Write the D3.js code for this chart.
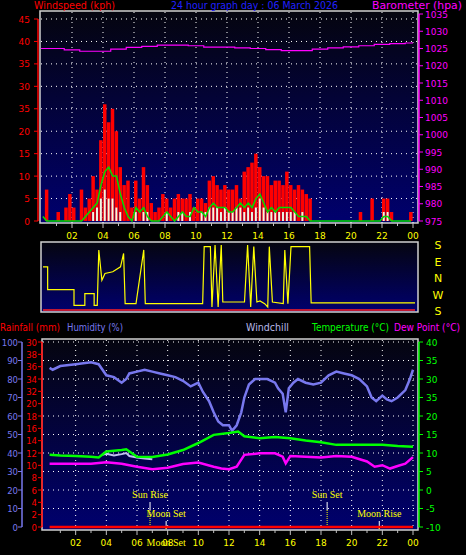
<!DOCTYPE html>
<html><head><meta charset="utf-8">
<script src="https://cdn.jsdelivr.net/npm/d3@7"></script>
<style>body{margin:0;background:#000}svg{display:block}</style>
</head><body><div id="chart"></div>
<script>
// wind, 15 minute slots from 00:00
const gust = [0,7,0,0, 2,0,3,6, 3,0,7,3, 5,10,7,18, 26,22,25,20, 12,8,9,3, 9,5,12,8, 4,2,3,6,
  5,3,5,6, 5,5,6,3, 5,5,4,9, 10,8,7,8, 7,7,8,5, 11,12,13,15, 12,10,10,8, 9,9,8,11,
  8,7,8,7, 6,5,0,0, 0,0,0,0, 0,0,0,0, 0,0,2,0, 0,5,0,0, 5,5,2,0, 0,0,0,2]
const avgWind = [1,0,0,0, 0,0,0,0, 0,0,0,1, 2,3,4,8, 11,12,10,10, 6,3,1,0, 3,2,3,1, 0,0,0,1,
  2,1,0,1, 2,1,1,3, 2,2,1,3, 4,3,3,3, 2,2,3,4, 3,4,3,5, 6,4,2,3, 2,3,3,3,
  3,2,1,1, 1,0,0,0, 0,0,0,0, 0,0,0,0, 0,0,0,0, 0,0,0,0, 1,1,0,0, 0,0,0,0]
const lull = [0,0,0,0, 0,0,0,0, 0,0,0,0, 0,2,3,5, 7,5,5,3, 2,0,0,0, 2,0,2,2, 0,0,0,0,
  2,0,0,2, 2,0,2,0, 0,2,2,3, 3,3,2,3, 2,2,3,3, 2,3,2,3, 5,3,2,2, 2,2,2,2,
  2,2,0,2, 0,0,0,0, 0,0,0,0, 0,0,0,0, 0,0,0,0, 0,0,0,0, 2,2,0,0, 0,0,0,0]
const baroHours = [0,1,2,3,4,5,6,7,8,9,10,11,12,13,14,15,16,17,18,19,20,21,22,23,24]
const baro = [1025,1025,1024.6,1024.2,1024.2,1024.8,1025.3,1025.6,1026,1026,1025.8,1025.4,1025.4,
  1025.2,1025,1024.7,1024.4,1024.4,1024.8,1025.2,1025.5,1025.8,1026.2,1026.4,1026.6]
const dirHours = [0,0.3,0.3,2,2,2.7,2.7,3.3,3.3,3.5,3.6,3.8,4,4.5,5,5.2,5.3,6,6.5,6.6,10.3,10.4,10.8,10.9,
  11.1,11.3,11.5,11.6,13,13.2,13.4,13.6,13.8,14,14.3,14.5,14.6,14.8,15.5,15.6,15.8,16,16.5,17.2,17.3,24]
const dirDeg = [61,61,-63,-63,-149,-149,-85,-85,-149,-149,153,-12,25,34,61,134,-140,-140,153,-140,-140,171,171,-158,
  180,-158,180,-131,-131,180,-158,171,-131,-125,-140,-158,171,-131,-140,153,-140,171,171,171,-136,-136]
const humHours = [0.3,0.5,1,2,3,3.5,4,4.5,5,5.3,5.5,6,6.5,7,7.5,8,8.5,9,9.5,10,10.3,10.7,11,11.3,11.6,12,12.2,12.5,
  12.8,13,13.3,13.7,14,14.5,15,15.2,15.5,15.7,15.9,16.2,16.5,17,17.5,18,18.5,19,19.5,20,20.5,21,21.3,21.6,22,22.3,22.6,23,23.5,23.8,24]
const humidity = [86,85,87,88,89,88,82,81,78,80,83,84,85,84,83,82,81,79,76,78,73,68,62,57,55,55,52,55,
  62,70,77,80,80,80,78,75,72,62,75,78,80,78,77,78,82,84,83,82,80,76,70,68,71,69,68,70,74,80,85]
const tempHours = [0.3,1,2,3,3.5,4,5,5.3,6,7,8,9,10,11,12,12.6,13,14,15,16,17,18,19,20,22,23,24]
const temperature = [9.5,9.3,9.2,9.0,8.8,10.4,10.8,11,9,8.9,9.6,10.8,12.7,14.9,15.4,15.8,14.5,14,14.3,14,13.4,12.9,12.2,12.2,12.2,11.9,11.7]
const dewHours = [0.3,3,4,5,6,7,8,9,10,11,11.5,12,12.5,13,14,15,15.5,15.7,16,17,18,19,20,21,21.5,22,22.5,23,23.5,24]
const dewPoint = [7.1,7.1,7.5,7.1,6.3,5.6,6,7,7.4,6.3,5.8,5.6,6.3,9.5,9.9,9.9,9,7.2,9.2,9,8.8,9.2,9,7.7,6.3,6.7,5.8,6.5,7.1,8.9]
const chillHours = [3.7,4,4.5,5,5.3,5.5,6,6.5,7]
const windchill = [9.5,9.8,9.3,9.7,10,9.2,8.8,8.5,8.3]
const rainHours = [0.3,24]
const rainfall = [0,0]
const hourLabels = ['02','04','06','08','10','12','14','16','18','20','22','00']
const windLabels = ['45','40','35','30','35','20','15','10','5','0']
const baroLabels = ['1035','1030','1025','1020','1015','1010','1005','1000','995','990','985','980','975']
const compassLabels = ['S','E','N','W','S']
const rainLabels = ['30','38','36','34','32','20','18','16','14','12','10','8','6','4','2','0']
const humLabels = ['100','90','80','70','60','50','40','30','20','10','0']
const tempLabels = ['40','35','30','35','20','15','10','5','0','-5','-10']
const events = [{name:'Sun Rise',h:6.85,row:0},{name:'Moon Set',h:7.9,row:1},{name:'Sun Set',h:18.4,row:0},{name:'Moon Rise',h:21.8,row:1}]

const W = 466, H = 555
const svg = d3.select('#chart').append('svg').attr('width', W).attr('height', H)
  .style('font-family', 'DejaVu Sans').style('font-size', '9px')
const defs = svg.append('defs')
const grad = defs.append('linearGradient').attr('id', 'bg').attr('x1', 0).attr('x2', 0).attr('y1', 0).attr('y2', 1)
grad.append('stop').attr('offset', '0%').attr('stop-color', '#05050f')
grad.append('stop').attr('offset', '100%').attr('stop-color', '#00006e')

function panel (x0, x1, y0, y1) {
  svg.append('rect').attr('x', x0).attr('y', y0).attr('width', x1 - x0).attr('height', y1 - y0)
    .attr('fill', 'url(#bg)').attr('stroke', '#d0d0d0').attr('stroke-width', 1.5)
}
function hourAxis (x, y, yTop) {
  const g = svg.append('g')
  d3.range(1, 25).forEach(h => {
    g.append('line').attr('x1', x(h)).attr('x2', x(h)).attr('y1', y).attr('y2', y + (h % 2 ? 3 : 5)).attr('stroke', '#c0c0c0')
    if (h % 2 === 0) {
      g.append('line').attr('x1', x(h)).attr('x2', x(h)).attr('y1', yTop).attr('y2', y)
        .attr('stroke', '#fff').attr('stroke-dasharray', '1,4')
      g.append('text').attr('x', x(h)).attr('y', y + 16).attr('text-anchor', 'middle')
        .attr('fill', '#ffff00').text(hourLabels[h / 2 - 1])
    }
  })
}
function hGrid (y, vals, x0, x1) {
  vals.forEach(v => svg.append('line').attr('x1', x0).attr('x2', x1).attr('y1', y(v)).attr('y2', y(v))
    .attr('stroke', '#fff').attr('stroke-dasharray', '1,4'))
}
function labelAxis (xLine, y, vals, labels, color, side, dx, fs) {
  svg.append('line').attr('x1', xLine).attr('x2', xLine).attr('y1', y(vals[0])).attr('y2', y(vals[vals.length - 1]))
    .attr('stroke', color).attr('stroke-width', 1.5)
  vals.forEach((v, i) => {
    svg.append('line').attr('x1', xLine).attr('x2', xLine + side * 4).attr('y1', y(v)).attr('y2', y(v)).attr('stroke', color)
    svg.append('text').attr('x', xLine + side * dx).attr('y', y(v) + 3.5).style('font-size', (fs || 9) + 'px')
      .attr('text-anchor', side < 0 ? 'end' : 'start').attr('fill', color).text(labels[i])
  })
}
function header (t, x, y, w, color) {
  svg.append('text').attr('x', x).attr('y', y).attr('fill', color).style('font-size', '10.5px')
    .attr('textLength', w).attr('lengthAdjust', 'spacingAndGlyphs').text(t)
}

// ---- top: wind + barometer
const xT = d3.scaleLinear().domain([0, 24]).range([41, 413])
const yW = d3.scaleLinear().domain([0, 45]).range([221, 19])
const yB = d3.scaleLinear().domain([975, 1035]).range([221, 14])
panel(40, 418, 11, 223)
hGrid(yW, [5, 10, 15, 20, 25, 30, 35, 40, 45], 41, 417)
hourAxis(xT, 223, 12)
const slot = 0.25
const bw = xT(slot) - xT(0)
svg.append('g').selectAll('rect').data(gust).join('rect')
  .attr('x', (d, i) => xT(i * slot)).attr('width', bw * 0.9)
  .attr('y', d => yW(d)).attr('height', d => yW(0) - yW(d)).attr('fill', '#ff0000')
svg.append('g').selectAll('rect').data(lull).join('rect')
  .attr('x', (d, i) => xT(i * slot) + bw * 0.2).attr('width', bw * 0.5)
  .attr('y', d => yW(d)).attr('height', d => yW(0) - yW(d)).attr('fill', '#e8f8e8')
svg.append('path').datum(avgWind).attr('fill', 'none').attr('stroke', '#00dd00').attr('stroke-width', 1.5)
  .attr('d', d3.line().x((d, i) => xT(i * slot + 0.12)).y(d => yW(d)))
svg.append('path').datum(baro).attr('fill', 'none').attr('stroke', '#ff00ff').attr('stroke-width', 1.2)
  .attr('d', d3.line().curve(d3.curveStep).x((d, i) => xT(baroHours[i])).y(d => yB(d)))
labelAxis(38, yW, d3.range(45, -1, -5), windLabels, '#ff0000', -1, 8)
labelAxis(419, yB, d3.range(1035, 974, -5), baroLabels, '#ff00ff', 1, 6)
header('Windspeed (kph)', 34, 9, 81, '#ff0000')
header('24 hour graph day : 06 March 2026', 171, 9, 167, '#2020ff')
header('Barometer (hpa)', 372, 9, 90, '#ff00ff')

// ---- wind direction
const xD = d3.scaleLinear().domain([0, 24]).range([43, 415])
const yD = d3.scaleLinear().domain([180, -180]).range([245, 311])
panel(41, 418, 242, 312)
svg.append('path').datum(dirDeg).attr('fill', 'none').attr('stroke', '#ffff00').attr('stroke-width', 1.2)
  .attr('d', d3.line().x((d, i) => xD(dirHours[i])).y(d => yD(d)))
svg.append('line').attr('x1', xD(0)).attr('x2', xD(24)).attr('y1', 310).attr('y2', 310).attr('stroke', '#ff2020').attr('stroke-width', 1.5)
compassLabels.forEach((c, i) => svg.append('text').attr('x', 438).attr('y', yD(180 - i * 90) + 4)
  .attr('text-anchor', 'middle').attr('fill', '#ffff00').style('font-size', '11px').text(c))

// ---- bottom: temperature, humidity, rain
const xB = d3.scaleLinear().domain([0, 24]).range([45, 413])
const yH = d3.scaleLinear().domain([0, 100]).range([527, 342])
const yR = d3.scaleLinear().domain([0, 30]).range([527, 342])
const yT = d3.scaleLinear().domain([-10, 40]).range([527, 342])
panel(42, 418, 339, 530)
hGrid(yH, d3.range(10, 101, 10), 43, 417)
hourAxis(xB, 530, 340)
events.forEach(e => {
  const x = xB(e.h)
  const ly = e.row ? 517 : 498
  svg.append('line').attr('x1', x).attr('x2', x).attr('y1', ly + 4).attr('y2', ly + 12).attr('stroke', '#fff')
  svg.append('line').attr('x1', x).attr('x2', x).attr('y1', ly + 12).attr('y2', 527).attr('stroke', '#ffff00').attr('stroke-dasharray', '1,1')
  svg.append('text').attr('x', x).attr('y', ly).attr('text-anchor', 'middle').attr('fill', '#ffff00')
    .style('font-family', 'Liberation Serif').style('font-size', '10px').text(e.name)
})
svg.append('text').attr('x', xB(7.9)).attr('y', 546).attr('text-anchor', 'middle').attr('fill', '#ffff00')
  .style('font-family', 'Liberation Serif').style('font-size', '10px').text('Moon Set')
const line = (hs, y) => d3.line().x((d, i) => xB(hs[i])).y(d => y(d))
svg.append('path').datum(humidity).attr('fill', 'none').attr('stroke', '#7878ee').attr('stroke-width', 2.5).attr('d', line(humHours, yH))
svg.append('path').datum(windchill).attr('fill', 'none').attr('stroke', '#c0c0f0').attr('stroke-width', 2).attr('d', line(chillHours, yT))
svg.append('path').datum(temperature).attr('fill', 'none').attr('stroke', '#00ff00').attr('stroke-width', 2.5).attr('d', line(tempHours, yT))
svg.append('path').datum(dewPoint).attr('fill', 'none').attr('stroke', '#ff00ff').attr('stroke-width', 2.5).attr('d', line(dewHours, yT))
svg.append('path').datum(rainfall).attr('fill', 'none').attr('stroke', '#ff0000').attr('stroke-width', 2.5).attr('d', line(rainHours, yR))
labelAxis(22, yH, d3.range(100, -1, -10), humLabels, '#7878ee', -1, 4, 8.5)
labelAxis(42, yR, d3.range(30, -1, -2), rainLabels, '#ff0000', -1, 5, 8.5)
labelAxis(419, yT, d3.range(40, -11, -5), tempLabels, '#00ff00', 1, 7)
header('Rainfall (mm)', 0, 331, 60, '#ff0000')
header('Humidity (%)', 67, 331, 56, '#7878ee')
header('Windchill', 246, 331, 43, '#b8b8e8')
header('Temperature (°C)', 312, 331, 77, '#00ff00')
header('Dew Point (°C)', 394, 331, 66, '#ff00ff')
</script></body></html>
